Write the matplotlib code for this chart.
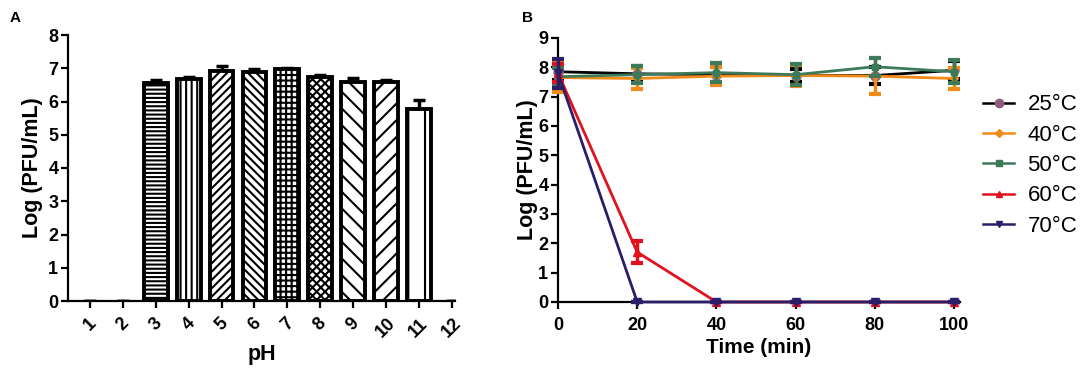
import numpy as np
import matplotlib
matplotlib.use('Agg')
import matplotlib.pyplot as plt
from matplotlib.lines import Line2D

plt.rcParams['font.family'] = ['Liberation Sans', 'DejaVu Sans']
plt.rcParams['hatch.linewidth'] = 1.5

# panel A data
ph_values = [1, 2, 3, 4, 5, 6, 7, 8, 9, 10, 11, 12]
ph_means = [0, 0, 6.55, 6.68, 6.92, 6.90, 6.98, 6.73, 6.60, 6.58, 5.78, 0]
ph_err = [0, 0, 0.10, 0.05, 0.14, 0.07, 0.04, 0.06, 0.12, 0.07, 0.27, 0]
ph_hatches = ['', '', '----', '|||', '////', '\\\\\\\\', '+++', 'xxxx', '\\\\', '//', '|', '']

# panel B data
time_min = [0, 20, 40, 60, 80, 100]
temp_labels = ['25°C', '40°C', '50°C', '60°C', '70°C']
t25 = [7.85, 7.78, 7.75, 7.72, 7.72, 7.90]
t25_err = [0.28, 0.27, 0.27, 0.22, 0.30, 0.30]
t40 = [7.65, 7.62, 7.70, 7.72, 7.70, 7.62]
t40_err = [0.50, 0.35, 0.30, 0.35, 0.62, 0.37]
t50 = [7.68, 7.75, 7.82, 7.75, 8.02, 7.85]
t50_err = [0.30, 0.30, 0.32, 0.35, 0.30, 0.40]
t60 = [7.80, 1.70, 0, 0, 0, 0]
t60_err = [0.30, 0.38, 0, 0, 0, 0]
t70 = [7.80, 0, 0, 0, 0, 0]
t70_err = [0.50, 0, 0, 0, 0, 0]

series = [t25, t40, t50, t60, t70]
series_err = [t25_err, t40_err, t50_err, t60_err, t70_err]
line_colors = ['#000000', '#F28A17', '#3C7A5A', '#E3101E', '#2B1E68']
marker_colors = ['#8E5B7C', '#F28A17', '#3C7A5A', '#E3101E', '#2B1E68']
markers = ['o', 'D', 's', '^', 'v']
marker_sizes = [6.5, 4.5, 5, 5.5, 5.5]

fig = plt.figure(figsize=(10.84, 3.77), dpi=100)

# ---- panel A ----
ax1 = fig.add_axes([68 / 1084, 1 - 301 / 377, 387 / 1084, 266 / 377])
for x, h, hatch in zip(ph_values, ph_means, ph_hatches):
    if h > 0:
        ax1.bar(x, h, width=0.72, color='white', edgecolor='black',
                linewidth=2.8, hatch=hatch, zorder=2)
up_err = np.array(ph_err)
ax1.errorbar(ph_values, ph_means, yerr=[np.zeros_like(up_err), up_err], fmt='none',
             ecolor='black', elinewidth=2.5, capsize=4.5, capthick=2.5, zorder=1)

ax1.set_xlim(0.33, 12.1)
ax1.set_ylim(0, 8)
ax1.set_xticks(ph_values)
ax1.set_xticklabels([str(v) for v in ph_values], rotation=45, fontsize=13, fontweight='bold')
ax1.set_yticks(range(0, 9))
ax1.set_yticklabels([str(v) for v in range(0, 9)], fontsize=13, fontweight='bold')
ax1.spines['top'].set_visible(False)
ax1.spines['right'].set_visible(False)
ax1.spines['left'].set_linewidth(1.6)
ax1.spines['bottom'].set_linewidth(1.6)
ax1.tick_params(width=1.6, length=5, pad=2)
ax1.tick_params(axis='x', pad=5)
ax1.set_xlabel('pH', fontsize=15.5, fontweight='bold', labelpad=2)
ax1.set_ylabel('Log (PFU/mL)', fontsize=15.5, fontweight='bold', labelpad=4)

# ---- panel B ----
ax2 = fig.add_axes([558 / 1084, 1 - 302 / 377, 402 / 1084, 264 / 377])
for i in range(len(series)):
    ax2.errorbar(time_min, series[i], yerr=series_err[i], color=line_colors[i],
                 ecolor=line_colors[i], elinewidth=2.5, capsize=4.5, capthick=3,
                 linewidth=2, marker=markers[i], markersize=marker_sizes[i],
                 markerfacecolor=marker_colors[i], markeredgecolor=marker_colors[i],
                 label=temp_labels[i], clip_on=False, zorder=3 + i)

ax2.set_xlim(0, 101.5)
ax2.set_ylim(0, 9)
ax2.set_xticks(time_min)
ax2.set_xticklabels([str(v) for v in time_min], fontsize=13, fontweight='bold')
ax2.set_yticks(range(0, 10))
ax2.set_yticklabels([str(v) for v in range(0, 10)], fontsize=13, fontweight='bold')
ax2.spines['top'].set_visible(False)
ax2.spines['right'].set_visible(False)
ax2.spines['left'].set_linewidth(1.6)
ax2.spines['bottom'].set_linewidth(1.6)
ax2.tick_params(width=1.6, length=5, pad=2)
ax2.tick_params(axis='x', pad=6)
ax2.set_xlabel('Time (min)', fontsize=15, fontweight='bold', labelpad=3)
ax2.set_ylabel('Log (PFU/mL)', fontsize=15.5, fontweight='bold', labelpad=0)

legend_handles = [Line2D([0], [0], color=line_colors[i], linewidth=1.8, marker=markers[i],
                         markersize=marker_sizes[i] - 0.5, markerfacecolor=marker_colors[i],
                         markeredgecolor=marker_colors[i]) for i in range(len(series))]
ax2.legend(legend_handles, temp_labels, loc='upper left',
           bbox_to_anchor=(1.035, 0.82), frameon=False, fontsize=16,
           handlelength=1.4, handletextpad=0.6, labelspacing=0.42,
           borderaxespad=0)

fig.text(10 / 1084, 1 - 18 / 377, 'A', fontsize=11, fontweight='bold', va='center')
fig.text(522 / 1084, 1 - 18 / 377, 'B', fontsize=11, fontweight='bold', va='center')

fig.savefig('out.png', dpi=100)
